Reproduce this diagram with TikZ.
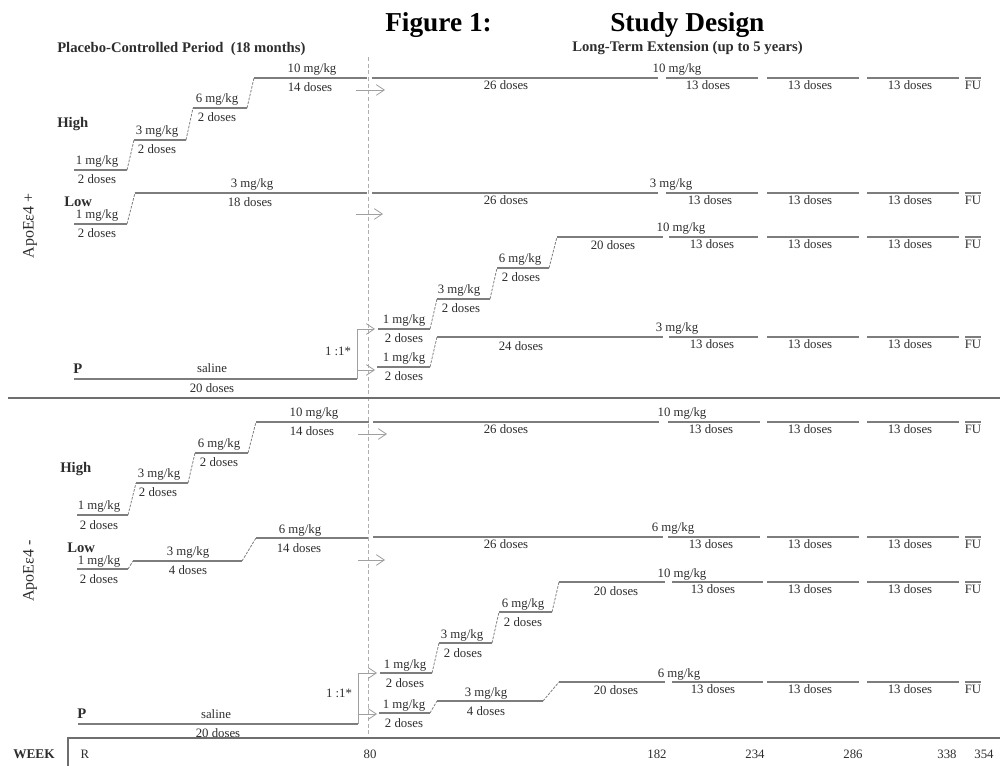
\documentclass[tikz,border=0pt]{standalone}
\usepackage{fontspec}
\setmainfont{Liberation Serif}
\usetikzlibrary{arrows.meta}
\definecolor{lgray}{RGB}{125,125,125}
\definecolor{tgray}{RGB}{45,45,45}
\definecolor{agray}{RGB}{160,160,160}
\definecolor{dgray}{RGB}{175,175,175}
\definecolor{sgray}{RGB}{110,110,110}
\tikzset{
  dose/.style={draw=lgray, line width=1.4pt},
  riser/.style={draw=lgray, line width=0.6pt, dash pattern=on 2pt off 1pt},
  garrow/.style={draw=agray, line width=0.6pt, -{Straight Barb[length=6pt,width=8pt]}},
  split/.style={draw=agray, line width=0.7pt},
  divider/.style={draw=dgray, line width=0.6pt, dash pattern=on 3pt off 2pt},
  sepline/.style={draw=sgray, line width=1.5pt},
  axisline/.style={draw=sgray, line width=0.8pt},
  lbl/.style={anchor=base, inner sep=0pt, text=tgray, font=\fontsize{9.6}{11}\selectfont},
  grp/.style={anchor=base west, inner sep=0pt, text=tgray, font=\fontsize{11}{13}\selectfont\bfseries},
  ttl/.style={anchor=base west, inner sep=0pt, text=black, font=\fontsize{20.5}{24}\selectfont\bfseries},
  subttl/.style={anchor=base west, inner sep=0pt, text=tgray, font=\fontsize{11}{13}\selectfont\bfseries},
  apo/.style={inner sep=0pt, text=tgray, font=\fontsize{12}{14}\selectfont, rotate=90},
}
\newcounter{lbc}
\newcommand\dlab[3]{\stepcounter{lbc}\node[lbl] (lb\arabic{lbc}) at (#1,#2) {#3};}
\newcommand\dseg[4]{\coordinate (#1a) at (#2,#4); \coordinate (#1b) at (#3,#4); \draw[dose] (#1a) -- (#1b);}
\newcommand\dlte[7]{%
  \dseg{#1p}{#3}{#4}{#2}\dseg{#1q}{767}{859}{#2}\dseg{#1r}{867}{959}{#2}%
  \dlab{#5}{#2-5}{#6}\dlab{#7}{#2+11.5}{13 doses}\dlab{810}{#2+11.5}{13 doses}\dlab{910}{#2+11.5}{13 doses}%
  \coordinate (#1fa) at (965,#2); \coordinate (#1fb) at (981,#2); \draw[dose] (#1fa) -- (#1fb);%
  \dlab{973}{#2+11.5}{FU}}
\begin{document}
\begin{tikzpicture}[x=0.75pt,y=-0.75pt]
\useasboundingbox (0,0) rectangle (1000,766);

% titles
\node[ttl] (fig) at (385,32) {Figure 1:};
\node[ttl] (sd) at (610,32) {Study Design};
\node[subttl] (pcp) at (57,53) {Placebo-Controlled Period\ \ (18 months)};
\node[subttl] (ltx) at (572,52) {Long-Term Extension (up to 5 years)};

% dashed divider and separator
\coordinate (dv1) at (368,57); \coordinate (dv2) at (368,738);
\draw[divider] (dv1) -- (dv2);
\coordinate (sp1) at (8,398); \coordinate (sp2) at (1000,398);
\draw[sepline] (sp1) -- (sp2);

% group labels
\node[apo] (apoP) at (30,226) {ApoEε4 +};
\node[apo] (apoM) at (30,571) {ApoEε4 -};
\node[grp] (hiA) at (57,128) {High};
\node[grp] (loA) at (64,207) {Low};
\node[grp] (pA) at (73,374) {P};
\node[grp] (hiB) at (60,473) {High};
\node[grp] (loB) at (67,552) {Low};
\node[grp] (pB) at (77,718) {P};

%%%%% UPPER PANEL
% High
\dseg{ah1}{74}{127}{170} \dlab{97}{165}{1 mg/kg} \dlab{97}{184}{2 doses}
\dseg{ah2}{134}{186}{140} \dlab{157}{135}{3 mg/kg} \dlab{157}{154}{2 doses}
\dseg{ah3}{193}{247}{108} \dlab{217}{103}{6 mg/kg} \dlab{217}{122}{2 doses}
\dseg{ah4}{254}{367}{78} \dlab{312}{73}{10 mg/kg} \dlab{310}{92}{14 doses}
\dseg{ah5}{372}{658}{78} \dlab{506}{89.5}{26 doses}
\dlte{ahL}{78}{666}{758}{677}{10 mg/kg}{708}
\draw[riser] (ah1b) -- (ah2a);
\draw[riser] (ah2b) -- (ah3a);
\draw[riser] (ah3b) -- (ah4a);
\coordinate (ahr1) at (356,90); \coordinate (ahr2) at (385,90);
\draw[garrow] (ahr1) -- (ahr2);
% Low
\dseg{al1}{74}{127}{224} \dlab{97}{219}{1 mg/kg} \dlab{97}{238}{2 doses}
\dseg{al2}{135}{367}{193} \dlab{252}{188}{3 mg/kg} \dlab{250}{207}{18 doses}
\dseg{al3}{372}{658}{193} \dlab{506}{204.5}{26 doses}
\dlte{alL}{193}{666}{758}{671}{3 mg/kg}{710}
\draw[riser] (al1b) -- (al2a);
\coordinate (alr1) at (356,214); \coordinate (alr2) at (383,214);
\draw[garrow] (alr1) -- (alr2);
% switch to high
\dseg{as1}{378}{430}{329} \dlab{404}{324}{1 mg/kg} \dlab{404}{343}{2 doses}
\dseg{as2}{437}{490}{299} \dlab{459}{294}{3 mg/kg} \dlab{461}{313}{2 doses}
\dseg{as3}{497}{549}{268} \dlab{520}{263}{6 mg/kg} \dlab{521}{282}{2 doses}
\dseg{as4}{557}{663}{237} \dlab{613}{250}{20 doses}
\dlte{asL}{237}{669}{758}{681}{10 mg/kg}{712}
\draw[riser] (as1b) -- (as2a);
\draw[riser] (as2b) -- (as3a);
\draw[riser] (as3b) -- (as4a);
% switch to low
\dseg{at1}{377}{430}{367} \dlab{404}{362}{1 mg/kg} \dlab{404}{381}{2 doses}
\dseg{at2}{437}{663}{337} \dlab{521}{351}{24 doses}
\dlte{atL}{337}{669}{758}{677}{3 mg/kg}{712}
\draw[riser] (at1b) -- (at2a);
% placebo
\dseg{ap}{74}{357}{379} \dlab{212}{373}{saline} \dlab{212}{393}{20 doses}
\coordinate (apS) at (357,329); \coordinate (apM) at (357,370);
\coordinate (asA) at (375,329); \coordinate (atA) at (375,370);
\draw[split] (apb) -- (apS);
\draw[garrow] (apS) -- (asA);
\draw[garrow] (apM) -- (atA);
\dlab{338}{356}{1 :1*}

%%%%% LOWER PANEL
% High
\dseg{bh1}{77}{128}{515} \dlab{99}{510}{1 mg/kg} \dlab{99}{529}{2 doses}
\dseg{bh2}{136}{188}{483} \dlab{159}{478}{3 mg/kg} \dlab{158}{497}{2 doses}
\dseg{bh3}{195}{248}{453} \dlab{219}{448}{6 mg/kg} \dlab{219}{467}{2 doses}
\dseg{bh4}{256}{369}{422} \dlab{314}{417}{10 mg/kg} \dlab{312}{436}{14 doses}
\dseg{bh5}{373}{659}{422} \dlab{506}{433.5}{26 doses}
\dlte{bhL}{422}{668}{760}{682}{10 mg/kg}{711}
\draw[riser] (bh1b) -- (bh2a);
\draw[riser] (bh2b) -- (bh3a);
\draw[riser] (bh3b) -- (bh4a);
\coordinate (bhr1) at (358,434); \coordinate (bhr2) at (387,434);
\draw[garrow] (bhr1) -- (bhr2);
% Low
\dseg{bl1}{77}{128}{569} \dlab{99}{564}{1 mg/kg} \dlab{99}{583}{2 doses}
\dseg{bl2}{133}{242}{561} \dlab{188}{556}{3 mg/kg} \dlab{188}{575}{4 doses}
\dseg{bl3}{256}{368}{538} \dlab{300}{533}{6 mg/kg} \dlab{299}{552}{14 doses}
\dseg{bl4}{373}{663}{537} \dlab{506}{548.5}{26 doses}
\dlte{blL}{537}{668}{760}{673}{6 mg/kg}{711}
\draw[riser] (bl1b) -- (bl2a);
\draw[riser] (bl2b) -- (bl3a);
\coordinate (blr1) at (358,560); \coordinate (blr2) at (385,560);
\draw[garrow] (blr1) -- (blr2);
% switch to high
\dseg{bs1}{380}{432}{673} \dlab{405}{668}{1 mg/kg} \dlab{405}{687}{2 doses}
\dseg{bs2}{439}{492}{643} \dlab{462}{638}{3 mg/kg} \dlab{463}{657}{2 doses}
\dseg{bs3}{499}{552}{612} \dlab{523}{607}{6 mg/kg} \dlab{523}{626}{2 doses}
\dseg{bs4}{559}{665}{582} \dlab{616}{595}{20 doses}
\dlte{bsL}{582}{672}{763}{682}{10 mg/kg}{713}
\draw[riser] (bs1b) -- (bs2a);
\draw[riser] (bs2b) -- (bs3a);
\draw[riser] (bs3b) -- (bs4a);
% switch to low
\dseg{bt1}{379}{430}{713} \dlab{404}{708}{1 mg/kg} \dlab{404}{727}{2 doses}
\dseg{bt2}{437}{543}{701} \dlab{486}{696}{3 mg/kg} \dlab{486}{715}{4 doses}
\dseg{bt3}{559}{665}{682} \dlab{616}{694}{20 doses}
\dlte{btL}{682}{672}{763}{679}{6 mg/kg}{713}
\draw[riser] (bt1b) -- (bt2a);
\draw[riser] (bt2b) -- (bt3a);
% placebo
\dseg{bp}{78}{358}{724} \dlab{216}{718}{saline} \dlab{218}{737}{20 doses}
\coordinate (bpS) at (358,673); \coordinate (bpM) at (358,714);
\coordinate (bsA) at (377,673); \coordinate (btA) at (377,714);
\draw[split] (bpb) -- (bpS);
\draw[garrow] (bpS) -- (bsA);
\draw[garrow] (bpM) -- (btA);
\dlab{339}{697}{1 :1*}

%%%%% WEEK AXIS
\coordinate (wa1) at (68,738); \coordinate (wa2) at (1000,738); \coordinate (wa3) at (68,766);
\draw[axisline] (wa2) -- (wa1) -- (wa3);
\node[grp, font=\fontsize{10}{12}\selectfont\bfseries] (week) at (13,758) {WEEK};
\dlab{85}{758}{R}
\dlab{370}{758}{80}
\dlab{657}{758}{182}
\dlab{755}{758}{234}
\dlab{853}{758}{286}
\dlab{947}{758}{338}
\dlab{984}{758}{354}
\end{tikzpicture}
\end{document}
